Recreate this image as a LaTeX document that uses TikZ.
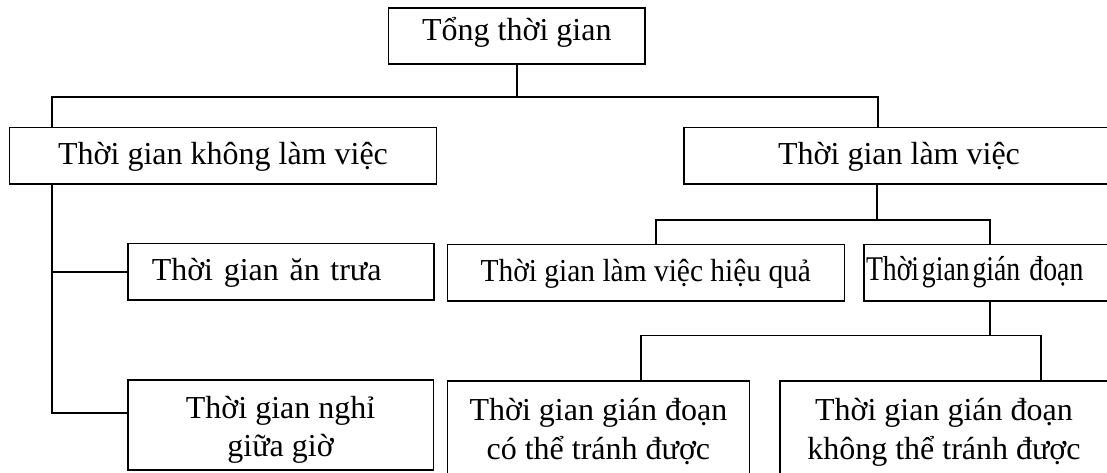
\documentclass[tikz,border=0pt]{standalone}
\usepackage{fontspec}
\setmainfont{Liberation Serif}
\newdimen\pxu \pxu=0.75pt
\begin{document}
\begin{tikzpicture}[x=0.75pt,y=-0.75pt,
  box/.style={draw, line width=1.2pt, inner sep=0pt, text height=0.662em, text depth=0pt, align=center, font=\fontsize{24}{28.9}\selectfont},
  low/.style={text height=0.662em+6pt},
  twoline/.style={text height=0.662em+28.9pt+12pt},
  link/.style={line width=1.2pt}]
\fill[white] (0,0) rectangle (1107,472);
\clip (0,0) rectangle (1107,472);
% boxes
\node[box, minimum width=256.4\pxu, minimum height=56\pxu] (T) at (516.8,36) {Tổng thời gian};
\node[box, low, minimum width=426.8\pxu, minimum height=56.7\pxu] (NLV) at (223,155.7) {Thời gian không làm việc};
\node[box, low, minimum width=430\pxu, minimum height=56.7\pxu] (LV) at (899,155.7) {Thời gian làm việc};
\node[box, low, minimum width=306.3\pxu, minimum height=56.7\pxu, text width=258.3\pxu, align=left] (AT) at (280.9,271.7) {Thời gian ăn trưa};
\node[box, twoline, minimum width=305.8\pxu, minimum height=90\pxu] (NG) at (280.6,425) {Thời gian nghỉ\\giữa giờ};
\node[box, low, minimum width=397\pxu, minimum height=56.7\pxu] (HQ) at (645.8,272.7) {\scalebox{0.92}[1]{Thời gian làm việc hiệu quả}};
\node[box, minimum width=252\pxu, minimum height=56.7\pxu, text width=248\pxu, align=left, font=\fontsize{26}{30}\selectfont, text height=0.662em+5pt] (GD) at (990,272.7) {\scalebox{0.8}[1]{Thời\hspace{0.1em}gian\hspace{0.1em}gián đoạn}};
\node[box, twoline, minimum width=302.2\pxu, minimum height=93\pxu] (CT) at (598.4,427.5) {Thời gian gián đoạn\\có thể tránh được};
\node[box, twoline, minimum width=328.2\pxu, minimum height=93\pxu] (KT) at (943.9,427.5) {Thời gian gián đoạn\\không thể tránh được};
% junction points
\coordinate (b1L) at (51.8,96.7);
\coordinate (b1R) at (878,96.7);
\coordinate (v2) at (51.8,412.7);
\coordinate (s2) at (876.7,220);
\coordinate (b2L) at (656,220);
\coordinate (b2R) at (990,220);
\coordinate (b3L) at (640.7,335.5);
\coordinate (b3R) at (1041,335.5);
% connectors
\draw[link] (T.south) -- (T.south |- b1L);
\draw[link] (NLV.north -| b1L) -- (b1L) -- (b1R) -- (LV.north -| b1R);
\draw[link] (NLV.south -| b1L) -- (v2) -- (v2 -| NG.west);
\draw[link] (b1L |- AT.west) -- (AT.west);
\draw[link] (LV.south -| s2) -- (s2);
\draw[link] (HQ.north -| b2L) -- (b2L) -- (b2R) -- (GD.north);
\draw[link] (GD.south) -- (GD.south |- b3L);
\draw[link] (CT.north -| b3L) -- (b3L) -- (b3R) -- (KT.north -| b3R);
\end{tikzpicture}
\end{document}
